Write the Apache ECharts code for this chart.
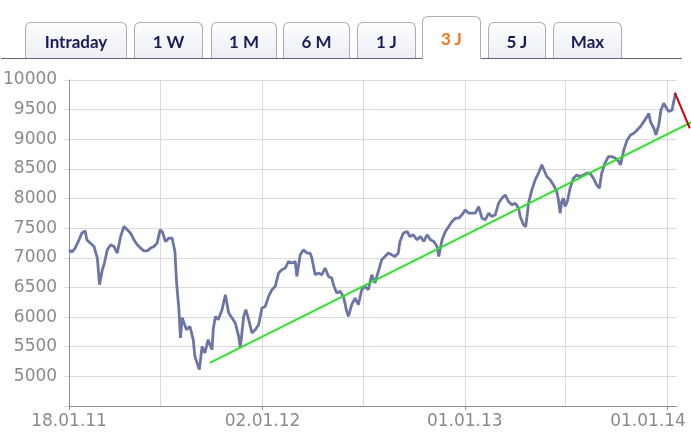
<!DOCTYPE html>
<html><head><meta charset="utf-8">
<script src="https://cdn.jsdelivr.net/npm/echarts@6/dist/echarts.min.js"></script>
<style>
html,body{margin:0;padding:0;background:#fff;}
#wrap{position:relative;width:691px;height:432px;overflow:hidden;}
#chart{position:absolute;left:0;top:0;width:691px;height:432px;}
.tab{position:absolute;top:22px;height:37px;box-sizing:border-box;border:1px solid #a9adba;border-bottom:none;border-radius:6px 6px 0 0;background:linear-gradient(#fdfdfe,#eceef3);font:bold 17px 'Lato',sans-serif;color:#191c5a;text-align:center;line-height:38px;z-index:2;}
.tab.active{top:16px;height:43px;background:#fff;color:#f07820;line-height:44px;z-index:4;}
#baseline{position:absolute;left:1px;top:58px;width:681px;height:1px;background:#5f6376;z-index:3;}
</style>
</head><body>
<div id="wrap">
<div id="chart"></div>
<div id="baseline"></div>
<div class="tab" style="left:25px;width:102px">Intraday</div>
<div class="tab" style="left:134px;width:69px">1 W</div>
<div class="tab" style="left:211px;width:66px">1 M</div>
<div class="tab" style="left:283px;width:67px">6 M</div>
<div class="tab" style="left:357px;width:59px">1 J</div>
<div class="tab active" style="left:422px;width:59px">3 J</div>
<div class="tab" style="left:488px;width:58px">5 J</div>
<div class="tab" style="left:553px;width:69px">Max</div>
</div>
<script>
const DAY = 86400000;
const START = Date.UTC(2011, 0, 18);
const SPAN_DAYS = 1096;

// day offsets from 18.01.2011 and index values
const days = [0,5,11,18,23,29,32,38,45,51,55,60,63,69,75,81,87,93,99,105,111,117,123,129,135,141,147,153,159,164,168,174,180,186,191,194,198,201,204,206,212,218,224,227,233,235,240,245,251,258,260,264,269,276,282,288,294,300,306,309,315,319,324,330,336,342,348,354,360,366,372,378,384,390,396,402,408,411,417,423,429,435,438,444,450,456,462,468,474,477,483,489,495,501,504,510,516,522,528,534,540,546,552,558,564,570,576,582,588,594,597,603,610,615,621,628,634,640,646,652,658,664,667,673,679,685,691,697,703,709,715,721,727,733,739,745,751,757,763,769,775,781,787,793,799,805,811,814,820,824,827,829,835,841,847,853,856,862,868,874,880,883,886,889,892,895,899,904,910,916,922,928,934,940,946,952,957,961,967,973,979,986,992,995,1001,1007,1013,1019,1025,1031,1037,1043,1046,1049,1055,1059,1064,1068,1073,1078,1082,1088,1091,1094];
const values = [7135,7097,7164,7304,7416,7455,7304,7249,7191,6996,6546,6798,6882,7135,7220,7191,7080,7360,7528,7472,7416,7304,7220,7164,7118,7118,7164,7191,7249,7472,7444,7276,7332,7332,7107,6580,6153,5648,5990,6012,5787,5843,5619,5338,5169,5113,5506,5395,5619,5450,5787,6012,5956,6125,6377,6068,5985,5900,5675,5479,6012,6125,5956,5732,5787,5872,6153,6180,6349,6462,6518,6743,6799,6827,6938,6911,6938,6686,7050,7135,7080,7080,6996,6714,6743,6714,6827,6686,6658,6546,6406,6434,6349,6096,6012,6209,6321,6209,6462,6518,6462,6714,6574,6770,6967,7023,7080,7051,7023,7080,7276,7416,7444,7360,7388,7304,7360,7276,7388,7304,7276,7191,7023,7304,7444,7528,7612,7669,7669,7725,7809,7753,7753,7753,7865,7669,7641,7753,7697,7725,7922,8006,8062,7950,7894,7922,7838,7697,7557,7528,7753,7922,8146,8315,8427,8568,8540,8371,8315,8231,8118,7978,7753,7950,8006,7865,7950,8175,8343,8399,8371,8399,8427,8427,8343,8231,8175,8427,8597,8708,8708,8680,8624,8568,8821,8989,9073,9102,9158,9214,9298,9382,9439,9298,9186,9073,9242,9495,9607,9523,9467,9495,9635,9775];

// support (green) and short trend (red) lines
const trendDays = [254, 1123];
const trendValues = [5226, 9290];
const downDays = [1093, 1120];
const downValues = [9786, 9186];

const tickLabels = ['18.01.11', '02.01.12', '01.01.13', '01.01.14'];
const tickDates = ['2011-01-18', '2012-01-02', '2013-01-01', '2014-01-01'];
const gridDates = ['2011-07-01', '2012-01-02', '2012-07-01', '2013-01-01', '2013-07-01', '2014-01-01'];

const toDay = s => Math.round((Date.parse(s) - START) / DAY);
const tickDays = tickDates.map(toDay);
const gridDays = gridDates.map(toDay);
const toPts = (ds, vs) => ds.map((d, i) => [d, vs[i]]);

// layout
const W = 691, GL = 69, GR = 14.5, GT = 80, GB = 26;
const plotW = W - GL - GR;
const wideMax = SPAN_DAYS * (W - GL) / plotW; // same scale, extended to canvas edge

const chart = echarts.init(document.getElementById('chart'), null, {renderer: 'canvas'});
const labelFont = {fontFamily: 'DejaVu Sans', fontSize: 17, color: '#8a8a8a'};
const yBase = {type: 'value', min: 4500, max: 10000, interval: 500};
chart.setOption({
  animation: false,
  grid: [
    {left: GL, right: GR, top: GT, bottom: GB, containLabel: false},
    {left: GL, right: 0, top: GT, bottom: GB, containLabel: false}
  ],
  xAxis: [{
    type: 'value', min: 0, max: SPAN_DAYS, gridIndex: 0,
    axisLine: {show: true, onZero: false, lineStyle: {color: '#8f8f8f', width: 1}},
    axisTick: {show: true, length: 4, customValues: tickDays, lineStyle: {color: '#8f8f8f'}},
    axisLabel: Object.assign({
      customValues: tickDays, margin: 7, hideOverlap: false,
      formatter: function (v) {
        const i = tickDays.indexOf(v);
        if (i < 0) return '';
        return i === tickDays.length - 1 ? '{r|' + tickLabels[i] + '}' : tickLabels[i];
      },
      rich: {r: Object.assign({padding: [0, 38, 0, 0]}, labelFont)}
    }, labelFont),
    splitLine: {show: false}
  }, {
    type: 'value', min: 0, max: SPAN_DAYS, gridIndex: 0, position: 'bottom',
    axisLine: {show: false, onZero: false}, axisLabel: {show: false},
    axisTick: {show: false, customValues: gridDays},
    splitLine: {show: true, lineStyle: {color: '#dadada', width: 1}}
  }, {
    type: 'value', min: 0, max: wideMax, gridIndex: 1, show: false,
    splitLine: {show: false}
  }],
  yAxis: [Object.assign({}, yBase, {
    gridIndex: 0,
    axisLine: {show: true, lineStyle: {color: '#8f8f8f', width: 1}},
    axisTick: {show: true, length: 5, lineStyle: {color: '#dadada'}},
    axisLabel: Object.assign({margin: 12, formatter: v => v < 5000 ? '' : String(v)}, labelFont),
    splitLine: {show: true, lineStyle: {color: '#dadada', width: 1}}
  }), Object.assign({}, yBase, {gridIndex: 1, show: false, splitLine: {show: false}})],
  series: [{
    type: 'line', data: toPts(days, values), showSymbol: false, symbol: 'none',
    xAxisIndex: 0, yAxisIndex: 0,
    lineStyle: {color: '#6b76a4', width: 2.8}, z: 2
  }, {
    type: 'line', data: toPts(trendDays, trendValues), showSymbol: false, symbol: 'none',
    xAxisIndex: 2, yAxisIndex: 1,
    lineStyle: {color: '#2fe02f', width: 2}, z: 3
  }, {
    type: 'line', data: toPts(downDays, downValues), showSymbol: false, symbol: 'none',
    xAxisIndex: 2, yAxisIndex: 1,
    lineStyle: {color: '#d40000', width: 2}, z: 4
  }]
});
</script>
</body></html>
